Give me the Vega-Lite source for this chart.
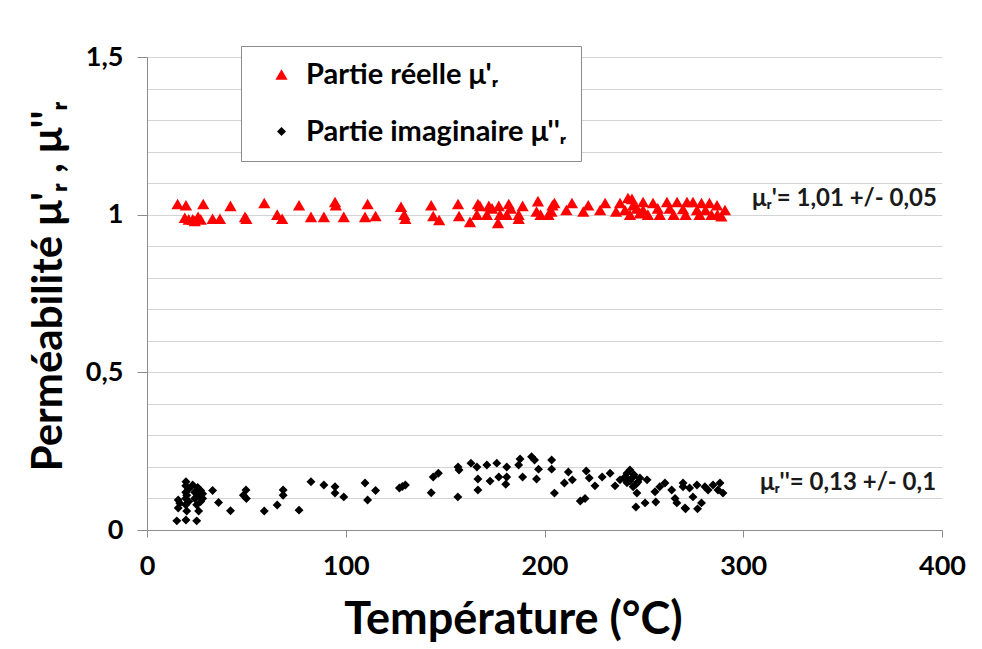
{
  "$schema": "https://vega.github.io/schema/vega-lite/v6.json",
  "autosize": "none",
  "width": 795,
  "height": 473,
  "padding": {"left": 147, "top": 57, "right": 40, "bottom": 119},
  "background": "white",
  "config": {"font": "Lato", "view": {"stroke": null}},
  "layer": [
    {
      "data": {"values": [
        {"T":15.4,"v":1.034,"s":"re"},{"T":19.6,"v":1.03,"s":"re"},{"T":19,"v":0.99,"s":"re"},{"T":23,"v":0.985,"s":"re"},{"T":25.7,"v":0.993,"s":"re"},{"T":24,"v":0.98,"s":"re"},{"T":21,"v":0.985,"s":"re"},{"T":28.3,"v":1.034,"s":"re"},{"T":27,"v":0.985,"s":"re"},{"T":33,"v":0.987,"s":"re"},{"T":36.7,"v":0.987,"s":"re"},{"T":42,"v":1.028,"s":"re"},{"T":49.3,"v":0.993,"s":"re"},{"T":50,"v":0.987,"s":"re"},{"T":59,"v":1.037,"s":"re"},{"T":65.5,"v":1.0,"s":"re"},{"T":68,"v":0.987,"s":"re"},{"T":76.5,"v":1.03,"s":"re"},{"T":82.5,"v":0.993,"s":"re"},{"T":89,"v":0.993,"s":"re"},{"T":94.6,"v":1.04,"s":"re"},{"T":95,"v":1.03,"s":"re"},{"T":99,"v":0.993,"s":"re"},{"T":109.7,"v":0.993,"s":"re"},{"T":111,"v":1.034,"s":"re"},{"T":115,"v":0.996,"s":"re"},{"T":127.8,"v":1.025,"s":"re"},{"T":129.4,"v":1.0,"s":"re"},{"T":130,"v":0.987,"s":"re"},{"T":143,"v":1.03,"s":"re"},{"T":144,"v":0.996,"s":"re"},{"T":147,"v":0.983,"s":"re"},{"T":156.5,"v":1.034,"s":"re"},{"T":157,"v":0.996,"s":"re"},{"T":162.5,"v":0.977,"s":"re"},{"T":166.5,"v":1.034,"s":"re"},{"T":166,"v":1.0,"s":"re"},{"T":167.5,"v":1.028,"s":"re"},{"T":172,"v":1.028,"s":"re"},{"T":171,"v":1.0,"s":"re"},{"T":173.6,"v":1.02,"s":"re"},{"T":177,"v":1.028,"s":"re"},{"T":176.6,"v":0.974,"s":"re"},{"T":177.6,"v":1.0,"s":"re"},{"T":182,"v":1.034,"s":"re"},{"T":181,"v":1.0,"s":"re"},{"T":183,"v":1.02,"s":"re"},{"T":189,"v":1.028,"s":"re"},{"T":187,"v":1.0,"s":"re"},{"T":187,"v":0.987,"s":"re"},{"T":196.7,"v":1.043,"s":"re"},{"T":196,"v":1.01,"s":"re"},{"T":198,"v":1.0,"s":"re"},{"T":204,"v":1.03,"s":"re"},{"T":202,"v":1.0,"s":"re"},{"T":205,"v":1.037,"s":"re"},{"T":203.5,"v":1.01,"s":"re"},{"T":211,"v":1.015,"s":"re"},{"T":213.8,"v":1.037,"s":"re"},{"T":219.5,"v":1.01,"s":"re"},{"T":222,"v":1.03,"s":"re"},{"T":228,"v":1.015,"s":"re"},{"T":230.5,"v":1.037,"s":"re"},{"T":236,"v":1.01,"s":"re"},{"T":238,"v":1.037,"s":"re"},{"T":240.5,"v":1.015,"s":"re"},{"T":242,"v":1.053,"s":"re"},{"T":244,"v":1.05,"s":"re"},{"T":244.6,"v":1.03,"s":"re"},{"T":246.5,"v":1.02,"s":"re"},{"T":243,"v":1.0,"s":"re"},{"T":248,"v":1.005,"s":"re"},{"T":249.6,"v":1.04,"s":"re"},{"T":249.6,"v":1.015,"s":"re"},{"T":252,"v":1.0,"s":"re"},{"T":254.6,"v":1.037,"s":"re"},{"T":257,"v":1.02,"s":"re"},{"T":258,"v":1.0,"s":"re"},{"T":261.6,"v":1.04,"s":"re"},{"T":263,"v":1.02,"s":"re"},{"T":265,"v":1.0,"s":"re"},{"T":266.7,"v":1.04,"s":"re"},{"T":269.7,"v":1.018,"s":"re"},{"T":271,"v":1.0,"s":"re"},{"T":271.7,"v":1.04,"s":"re"},{"T":274.7,"v":1.04,"s":"re"},{"T":276.7,"v":1.015,"s":"re"},{"T":278,"v":1.0,"s":"re"},{"T":279,"v":1.037,"s":"re"},{"T":281,"v":1.015,"s":"re"},{"T":283,"v":1.037,"s":"re"},{"T":284,"v":1.0,"s":"re"},{"T":286.8,"v":1.03,"s":"re"},{"T":287,"v":1.0,"s":"re"},{"T":289,"v":0.995,"s":"re"},{"T":290.8,"v":1.015,"s":"re"},
        {"T":15,"v":0.029,"s":"im"},{"T":15.7,"v":0.095,"s":"im"},{"T":15.7,"v":0.07,"s":"im"},{"T":16.5,"v":0.085,"s":"im"},{"T":19.6,"v":0.153,"s":"im"},{"T":19.6,"v":0.032,"s":"im"},{"T":19.5,"v":0.14,"s":"im"},{"T":19.5,"v":0.12,"s":"im"},{"T":19.5,"v":0.1,"s":"im"},{"T":19.5,"v":0.08,"s":"im"},{"T":20,"v":0.06,"s":"im"},{"T":20,"v":0.11,"s":"im"},{"T":21,"v":0.13,"s":"im"},{"T":21,"v":0.09,"s":"im"},{"T":23,"v":0.143,"s":"im"},{"T":24,"v":0.12,"s":"im"},{"T":24,"v":0.1,"s":"im"},{"T":25,"v":0.08,"s":"im"},{"T":25,"v":0.029,"s":"im"},{"T":25.5,"v":0.135,"s":"im"},{"T":26,"v":0.11,"s":"im"},{"T":26,"v":0.06,"s":"im"},{"T":27,"v":0.125,"s":"im"},{"T":27,"v":0.09,"s":"im"},{"T":28,"v":0.1,"s":"im"},{"T":28,"v":0.115,"s":"im"},{"T":33,"v":0.125,"s":"im"},{"T":36,"v":0.087,"s":"im"},{"T":42,"v":0.061,"s":"im"},{"T":49.8,"v":0.127,"s":"im"},{"T":48.5,"v":0.11,"s":"im"},{"T":50,"v":0.1,"s":"im"},{"T":59,"v":0.06,"s":"im"},{"T":65.5,"v":0.079,"s":"im"},{"T":68.5,"v":0.127,"s":"im"},{"T":68.5,"v":0.11,"s":"im"},{"T":76.5,"v":0.063,"s":"im"},{"T":82.5,"v":0.153,"s":"im"},{"T":89,"v":0.143,"s":"im"},{"T":94.6,"v":0.137,"s":"im"},{"T":94.6,"v":0.117,"s":"im"},{"T":99,"v":0.105,"s":"im"},{"T":109.7,"v":0.149,"s":"im"},{"T":111,"v":0.095,"s":"im"},{"T":115,"v":0.125,"s":"im"},{"T":127,"v":0.133,"s":"im"},{"T":128.5,"v":0.138,"s":"im"},{"T":130,"v":0.143,"s":"im"},{"T":143,"v":0.118,"s":"im"},{"T":144,"v":0.168,"s":"im"},{"T":146.6,"v":0.18,"s":"im"},{"T":156.5,"v":0.2,"s":"im"},{"T":157,"v":0.19,"s":"im"},{"T":156.4,"v":0.105,"s":"im"},{"T":163,"v":0.212,"s":"im"},{"T":166,"v":0.2,"s":"im"},{"T":166.5,"v":0.162,"s":"im"},{"T":166.5,"v":0.127,"s":"im"},{"T":171,"v":0.206,"s":"im"},{"T":172.6,"v":0.155,"s":"im"},{"T":176,"v":0.212,"s":"im"},{"T":177,"v":0.168,"s":"im"},{"T":181,"v":0.2,"s":"im"},{"T":181,"v":0.168,"s":"im"},{"T":180.5,"v":0.145,"s":"im"},{"T":187.7,"v":0.225,"s":"im"},{"T":187,"v":0.206,"s":"im"},{"T":189,"v":0.168,"s":"im"},{"T":193.5,"v":0.232,"s":"im"},{"T":195,"v":0.222,"s":"im"},{"T":197,"v":0.193,"s":"im"},{"T":196,"v":0.162,"s":"im"},{"T":203.6,"v":0.222,"s":"im"},{"T":203.6,"v":0.193,"s":"im"},{"T":205,"v":0.117,"s":"im"},{"T":210,"v":0.149,"s":"im"},{"T":212,"v":0.184,"s":"im"},{"T":214,"v":0.159,"s":"im"},{"T":218,"v":0.092,"s":"im"},{"T":220.4,"v":0.1,"s":"im"},{"T":221,"v":0.187,"s":"im"},{"T":222.5,"v":0.165,"s":"im"},{"T":225.4,"v":0.14,"s":"im"},{"T":229,"v":0.168,"s":"im"},{"T":233,"v":0.18,"s":"im"},{"T":235.5,"v":0.14,"s":"im"},{"T":238,"v":0.159,"s":"im"},{"T":241.5,"v":0.18,"s":"im"},{"T":243,"v":0.19,"s":"im"},{"T":244.6,"v":0.168,"s":"im"},{"T":244.6,"v":0.137,"s":"im"},{"T":247,"v":0.152,"s":"im"},{"T":241.5,"v":0.15,"s":"im"},{"T":240,"v":0.165,"s":"im"},{"T":242,"v":0.16,"s":"im"},{"T":245,"v":0.175,"s":"im"},{"T":246,"v":0.145,"s":"im"},{"T":248,"v":0.165,"s":"im"},{"T":243,"v":0.155,"s":"im"},{"T":246.5,"v":0.117,"s":"im"},{"T":246,"v":0.073,"s":"im"},{"T":250.6,"v":0.086,"s":"im"},{"T":251.6,"v":0.159,"s":"im"},{"T":256,"v":0.089,"s":"im"},{"T":255.6,"v":0.121,"s":"im"},{"T":258,"v":0.137,"s":"im"},{"T":260.6,"v":0.149,"s":"im"},{"T":264,"v":0.127,"s":"im"},{"T":265.7,"v":0.1,"s":"im"},{"T":266.6,"v":0.086,"s":"im"},{"T":269.7,"v":0.149,"s":"im"},{"T":271,"v":0.067,"s":"im"},{"T":273,"v":0.133,"s":"im"},{"T":274.7,"v":0.105,"s":"im"},{"T":277,"v":0.067,"s":"im"},{"T":276.7,"v":0.143,"s":"im"},{"T":279,"v":0.086,"s":"im"},{"T":280.7,"v":0.137,"s":"im"},{"T":282.3,"v":0.127,"s":"im"},{"T":284.8,"v":0.143,"s":"im"},{"T":287.3,"v":0.127,"s":"im"},{"T":288.3,"v":0.149,"s":"im"},{"T":289.8,"v":0.117,"s":"im"},{"T":270.7,"v":0.07,"s":"im"},{"T":269.7,"v":0.137,"s":"im"}
      ]},
      "mark": {"type": "point", "filled": true, "opacity": 1, "strokeWidth": 0},
      "encoding": {
        "x": {
          "field": "T", "type": "quantitative",
          "scale": {"domain": [0, 400], "nice": false, "zero": false},
          "axis": {
            "values": [0, 100, 200, 300, 400],
            "tickCount": 10,
            "grid": false,
            "domainColor": "#8c8c8c",
            "tickColor": "#8c8c8c",
            "tickSize": 7,
            "labelFontSize": 27,
            "labelFontWeight": "bold",
            "labelColor": "#000000",
            "labelPadding": 16,
            "labelFlush": false,
            "title": "Température (°C)",
            "titleFontSize": 45,
            "titleFontWeight": "bold",
            "titleColor": "#000000",
            "titleX": 366,
            "titleY": 103,
            "titleAnchor": null,
            "titleAlign": "center",
            "titleBaseline": "alphabetic"
          }
        },
        "y": {
          "field": "v", "type": "quantitative",
          "scale": {"domain": [0, 1.5], "nice": false, "zero": false},
          "axis": {
            "values": [0, 0.1, 0.2, 0.3, 0.4, 0.5, 0.6, 0.7, 0.8, 0.9, 1, 1.1, 1.2, 1.3, 1.4, 1.5],
            "tickCount": 30,
            "grid": true,
            "gridColor": "#d4d4d4",
            "gridWidth": 1,
            "domainColor": "#8c8c8c",
            "tickColor": "#8c8c8c",
            "tickSize": 10,
            "tickOpacity": {"condition": {"test": "abs(datum.value*2-round(datum.value*2))<0.001", "value": 1}, "value": 0},
            "labelExpr": "abs(datum.value*2-round(datum.value*2))<0.001 ? replace(format(datum.value,'.1~f'),'.',',') : ''",
            "labelFontSize": 27,
            "labelFontWeight": "bold",
            "labelColor": "#000000",
            "labelPadding": 14,
            "labelFlush": false,
            "labelOverlap": false,
            "title": "Perméabilité  μ'ᵣ , μ''ᵣ",
            "titleFontSize": 42,
            "titleFontWeight": "bold",
            "titleColor": "#000000",
            "titleAngle": -90,
            "titleX": -99,
            "titleY": 229,
            "titleAnchor": null,
            "titleAlign": "center",
            "titleBaseline": "middle"
          }
        },
        "color": {
          "field": "s", "type": "nominal",
          "scale": {"domain": ["re", "im"], "range": ["#ff0000", "#000000"]},
          "legend": {
            "orient": "none",
            "legendX": 94,
            "legendY": -11,
            "title": null,
            "fillColor": "white",
            "strokeColor": "#8c8c8c",
            "padding": 14,
            "symbolOffset": 12,
            "rowPadding": 27,
            "labelFontSize": 29,
            "labelFontWeight": "bold",
            "labelColor": "#000000",
            "labelOffset": 10,
            "labelLimit": 400,
            "labelExpr": "datum.label == 're' ? \"Partie réelle μ'ᵣ\" : \"Partie imaginaire μ''ᵣ\"",
            "symbolType": "circle",
            "encode": {"symbols": {"update": {"size": {"value": 50}, "strokeWidth": {"value": 0}}}}
          }
        },
        "shape": {
          "field": "s", "type": "nominal",
          "scale": {"domain": ["re", "im"], "range": ["triangle-up", "diamond"]}
        },
        "size": {
          "field": "s", "type": "nominal",
          "scale": {"domain": ["re", "im"], "range": [150, 80]},
          "legend": null
        }
      }
    },
    {
      "data": {"values": [
        {"T": 304.4, "v": 1.05, "t": "μᵣ'= 1,01 +/- 0,05"},
        {"T": 308.4, "v": 0.149, "t": "μᵣ''= 0,13 +/- 0,1"}
      ]},
      "mark": {"type": "text", "align": "left", "baseline": "middle", "fontSize": 24, "fontWeight": "bold", "color": "#1a1a1a"},
      "encoding": {
        "x": {"field": "T", "type": "quantitative"},
        "y": {"field": "v", "type": "quantitative"},
        "text": {"field": "t"}
      }
    }
  ]
}
